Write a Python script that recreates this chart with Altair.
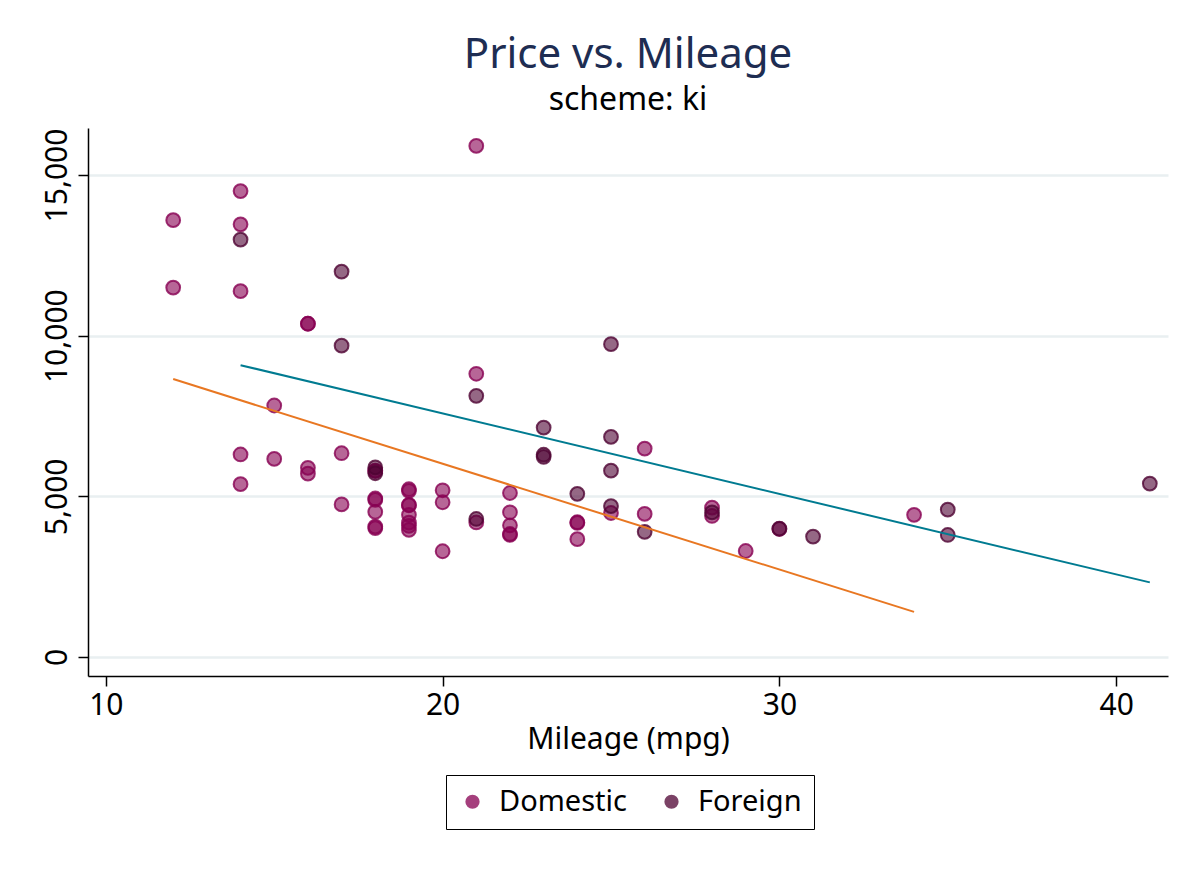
import altair as alt
import pandas as pd

# Domestic cars (mpg, price)
dom_mpg = [22, 17, 22, 20, 15, 18, 26, 20, 16, 19, 14, 14, 21, 29, 16, 22, 22, 24, 19, 30,
           18, 16, 17, 28, 21, 12, 12, 14, 22, 14, 15, 18, 14, 20, 21, 19, 19, 18, 19, 24,
           16, 28, 34, 25, 26, 18, 18, 18, 19, 19, 19, 24]
dom_price = [4099, 4749, 3799, 4816, 7827, 5788, 4453, 5189, 10372, 4082, 11385, 14500, 15906,
             3299, 5705, 4504, 5104, 3667, 3955, 3984, 4010, 5886, 6342, 4389, 4187, 11497,
             13594, 13466, 3829, 5379, 6165, 4516, 6303, 3291, 8814, 5172, 4733, 4890, 4181,
             4195, 10371, 4647, 4425, 4482, 6486, 4060, 5798, 4934, 5222, 4723, 4424, 4172]

# Foreign cars (mpg, price)
for_mpg = [17, 23, 25, 23, 35, 24, 21, 21, 25, 28, 30, 14, 26, 35, 18, 31, 18, 23, 41, 25, 25, 17]
for_price = [9690, 6295, 9735, 6229, 4589, 5079, 8129, 4296, 5799, 4499, 3995, 12990, 3895,
             3798, 5899, 3748, 5719, 7140, 5397, 4697, 6850, 11995]

groups = ["Domestic", "Foreign"]
y_ticks = [0, 5000, 10000, 15000]
x_ticks = [10, 20, 30, 40]

df = pd.DataFrame({
    "mpg": dom_mpg + for_mpg,
    "price": dom_price + for_price,
    "origin": [groups[0]] * len(dom_mpg) + [groups[1]] * len(for_mpg),
})

FONT = "Noto Sans"

x = alt.X("mpg:Q", title="Mileage (mpg)",
          scale=alt.Scale(domain=[9.47, 41.54], nice=False, zero=False),
          axis=alt.Axis(values=x_ticks, grid=False, domainColor="black", domainWidth=1.5,
                        tickColor="black", tickWidth=1.5, tickSize=10,
                        labelFontSize=30, labelColor="black", labelFont=FONT, labelPadding=4,
                        titleFontSize=30, titleFont=FONT, titleColor="black",
                        titleFontWeight="normal", titlePadding=4))
y = alt.Y("price:Q", title=None,
          scale=alt.Scale(domain=[-591, 16463], nice=False, zero=False),
          axis=alt.Axis(values=y_ticks, labelExpr="format(datum.value, ',d')",
                        grid=True, gridColor="#e9eff1", gridWidth=2.5,
                        domainColor="black", domainWidth=1.5,
                        tickColor="black", tickWidth=1.5, tickSize=10,
                        labelFontSize=30, labelColor="black", labelFont=FONT,
                        labelAngle=270, labelAlign="center", labelBaseline="bottom",
                        labelPadding=6))

color_scale = alt.Scale(domain=groups, range=["#870052", "#4f0433"])

legend = alt.Legend(orient="none", legendX=358, legendY=647, title=None,
                    direction="horizontal", columns=2,
                    labelFontSize=29, labelFont=FONT, labelColor="black",
                    symbolSize=150, symbolStrokeWidth=2, symbolOpacity=0.75,
                    strokeColor="black", padding=12,
                    columnPadding=30, labelOffset=12)

points = alt.Chart(df).mark_point(filled=True, size=190, fillOpacity=0.6,
                                  strokeOpacity=0.8, strokeWidth=2, shape="circle").encode(
    x=x, y=y,
    fill=alt.Fill("origin:N", scale=color_scale, title=None, legend=legend),
    stroke=alt.Stroke("origin:N", scale=color_scale, title=None, legend=legend),
)

dom_line = alt.Chart(df).transform_filter(alt.datum.origin == groups[0]).transform_regression(
    "mpg", "price").mark_line(color="#e87722", strokeWidth=2).encode(x=x, y=y)
for_line = alt.Chart(df).transform_filter(alt.datum.origin == groups[1]).transform_regression(
    "mpg", "price").mark_line(color="#007b91", strokeWidth=2).encode(x=x, y=y)

chart = alt.layer(points, dom_line, for_line).properties(
    width=1080, height=548, background="white",
    title=alt.TitleParams("Price vs. Mileage", subtitle="scheme: ki", font=FONT, fontSize=42,
                          fontWeight="normal", color="#1e2d52", subtitleFont=FONT,
                          subtitleFontSize=32, subtitleColor="black", anchor="middle",
                          offset=11, subtitlePadding=8),
    autosize=alt.AutoSizeParams(type="none"),
    padding={"left": 80, "top": 120, "right": 24, "bottom": 188},
).configure_view(stroke=None)

chart.save("out.html", embed_options={"renderer": "svg", "actions": False})
